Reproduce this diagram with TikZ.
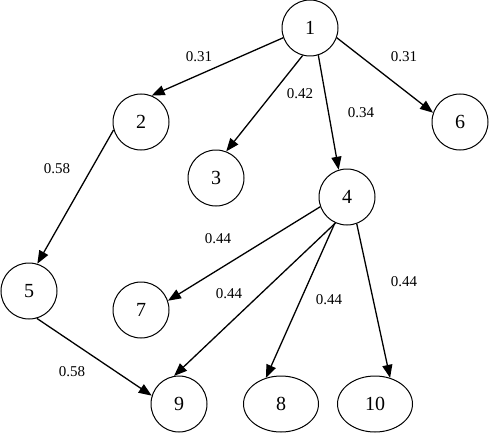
\documentclass[tikz,border=0pt]{standalone}
\usepackage{fontspec}
\setmainfont{Liberation Serif}
\usetikzlibrary{arrows.meta,shapes.geometric}
\begin{document}
\begin{tikzpicture}[x=1pt,y=-1pt,
  vertex/.style={circle,draw,line width=1pt,minimum size=56pt,inner sep=0pt,font=\fontsize{20}{20}\selectfont},
  evertex/.style={ellipse,draw,line width=1pt,minimum width=75pt,minimum height=56pt,inner sep=0pt,font=\fontsize{20}{20}\selectfont},
  edge/.style={-{Triangle[length=13pt,width=10pt]},line width=1.3pt},
  wlabel/.style={font=\fontsize{15}{15}\selectfont,inner sep=0pt}]
\useasboundingbox (0,0) rectangle (489,433);
\node[vertex] (n1) at (310,28) {1};
\node[vertex] (n2) at (141,122) {2};
\node[vertex] (n3) at (216,178) {3};
\node[vertex] (n6) at (460,122) {6};
\node[vertex] (n4) at (347,197) {4};
\node[vertex] (n5) at (29,291) {5};
\node[vertex] (n7) at (141,310) {7};
\node[vertex] (n9) at (179,404) {9};
\node[evertex] (n8) at (281,404) {8};
\node[evertex] (n10) at (375,404) {10};
\draw[edge] (n1.200) -- (n2.68);
\draw[edge] (n1.-105) -- (n3.69);
\draw[edge] (n1.-73) -- (n4.107);
\draw[edge] (n1.-20) -- (n6.161);
\draw[edge] (n2.196) -- (n5.73);
\draw[edge] (n5.-74) -- (n9.163);
\draw[edge] (n4.200) -- (n7.19);
\draw[edge] (n4.-114) -- (n9.100);
\draw[edge] (n4.-115) -- (n8.120);
\draw[edge] (n4.-70) -- (n10.60);
\node[wlabel] (l12) at (199,57) {0.31};
\node[wlabel] (l16) at (404,57) {0.31};
\node[wlabel] (l13) at (300,94) {0.42};
\node[wlabel] (l14) at (361,113) {0.34};
\node[wlabel] (l25) at (57,169) {0.58};
\node[wlabel] (l47) at (218,239) {0.44};
\node[wlabel] (l49) at (229,294) {0.44};
\node[wlabel] (l48) at (329,300) {0.44};
\node[wlabel] (l410) at (404,282) {0.44};
\node[wlabel] (l59) at (72,372) {0.58};
\end{tikzpicture}
\end{document}
